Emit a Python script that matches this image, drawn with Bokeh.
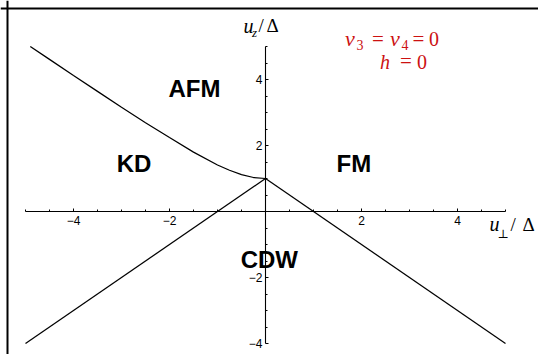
from bokeh.plotting import figure
from bokeh.models import Range1d, FixedTicker, Span, Label
from bokeh.core.properties import value
from bokeh.embed import file_html
from bokeh.resources import INLINE

# ---- data ----
# AFM / KD boundary (curved)
afm_kd_x = [-4.9, -4.5, -4.0, -3.5, -3.0, -2.5, -2.0, -1.5, -1.0, -0.75, -0.5, -0.25, 0.0]
afm_kd_y = [5.0, 4.61, 4.12, 3.64, 3.16, 2.69, 2.24, 1.80, 1.41, 1.25, 1.12, 1.03, 1.0]
# KD / CDW boundary
kd_cdw_x = [-5.0, 0.0]
kd_cdw_y = [-4.0, 1.0]
# FM / CDW and AFM / FM boundary
fm_cdw_x = [0.0, 5.0]
fm_cdw_y = [1.0, -4.0]

x_ticks = [-4, -2, 2, 4]
x_tick_labels = ["−4", "−2", "2", "4"]
y_ticks = [-4, -2, 2, 4]
y_tick_labels = ["−4", "−2", "2", "4"]
x_minor = [-5, -4.5, -3.5, -3, -2.5, -1.5, -1, -0.5, 0.5, 1, 1.5, 2.5, 3, 3.5, 4.5, 5]
y_minor = [-3.5, -3, -2.5, -1.5, -1, -0.5, 0.5, 1, 1.5, 2.5, 3, 3.5, 4.5, 5]

phase_names = ["AFM", "KD", "FM", "CDW"]
phase_x = [-1.48, -2.74, 1.84, 0.08]
phase_y = [3.72, 1.45, 1.45, -1.46]

# ---- layout constants ----
W, H = 538, 354
X0, Y0 = 265, 211       # pixel of origin
SX, SY = 48.0, 33.0     # px per unit
xs, xe = -X0 / SX, (W - X0) / SX
ye, ys = Y0 / SY, -(H - Y0) / SY

p = figure(width=W, height=H, x_range=Range1d(xs, xe), y_range=Range1d(ys, ye),
           output_backend="svg", toolbar_location=None, min_border=0)
p.xgrid.visible = False
p.ygrid.visible = False
p.outline_line_color = None
p.background_fill_color = "white"
p.border_fill_color = "white"

for ax, ticks, labels, minor, bnds in ((p.xaxis[0], x_ticks, x_tick_labels, x_minor, (-5, 5)),
                                        (p.yaxis[0], y_ticks, y_tick_labels, y_minor, (-4, 5))):
    ax.fixed_location = 0
    ax.bounds = bnds
    ax.ticker = FixedTicker(ticks=ticks, minor_ticks=minor)
    ax.major_label_overrides = {float(t): l for t, l in zip(ticks, labels)}
    ax.major_tick_in = 3
    ax.major_tick_out = 0
    ax.minor_tick_in = 2
    ax.minor_tick_out = 0
    ax.axis_line_width = 1.1
    ax.major_tick_line_width = 1
    ax.minor_tick_line_width = 1
    ax.axis_line_color = "black"
    ax.major_tick_line_color = "black"
    ax.minor_tick_line_color = "black"
    ax.major_label_text_font = "Liberation Sans"
    ax.major_label_text_font_size = "12px"
    ax.major_label_text_color = "black"
p.xaxis[0].major_label_standoff = 4
p.yaxis[0].major_label_standoff = 3

lw = 1.25
p.line(afm_kd_x, afm_kd_y, line_color="black", line_width=lw)
p.line(kd_cdw_x, kd_cdw_y, line_color="black", line_width=lw)
p.line(fm_cdw_x, fm_cdw_y, line_color="black", line_width=lw)

p.text(x=phase_x, y=phase_y, text=phase_names, text_font=value("Liberation Sans"),
       text_font_style="bold", text_font_size="24px", text_align="center",
       text_baseline="alphabetic", text_color="black")

# frame border (left and top)
p.add_layout(Span(location=(7 - X0) / SX, dimension="height", line_color="black", line_width=2))
p.add_layout(Span(location=(Y0 - 8) / SY, dimension="width", line_color="black", line_width=2))


def lab(text, px, py, size, style="normal", color="black", align="left", font="Liberation Serif"):
    py = py - 0.37 * size
    p.add_layout(Label(x=(px - X0) / SX, y=(Y0 - py) / SY, text=text,
                       text_font=font, text_font_size=f"{size}px", text_font_style=style,
                       text_color=color, text_align=align, text_baseline="alphabetic"))


# y axis label  u_z / Δ
lab("u", 243, 32.5, 20, "italic")
lab("z", 251.5, 36.5, 13, "italic")
lab("/", 258, 32.5, 19)
lab("Δ", 266, 32.5, 19)
# x axis label  u_⊥ / Δ
lab("u", 489, 231, 20, "italic")
lab("⊥", 497, 238, 12, font="DejaVu Serif")
lab("/", 510, 231, 19)
lab("Δ", 522, 231, 19)

# red annotation
red = "#cc1111"
lab("ν", 344.5, 46, 22, "italic", red)
lab("3", 356, 50, 14, color=red)
lab("=", 377.5, 46, 21, color=red, align="center")
lab("ν", 389.5, 46, 22, "italic", red)
lab("4", 401, 50, 14, color=red)
lab("=", 418, 46, 21, color=red, align="center")
lab("0", 428.5, 46, 20, color=red)
lab("h", 379.5, 68.5, 20, "italic", red)
lab("=", 405.5, 68.5, 21, color=red, align="center")
lab("0", 416.5, 68.5, 20, color=red)

open("out.html", "w").write(file_html(p, INLINE))
